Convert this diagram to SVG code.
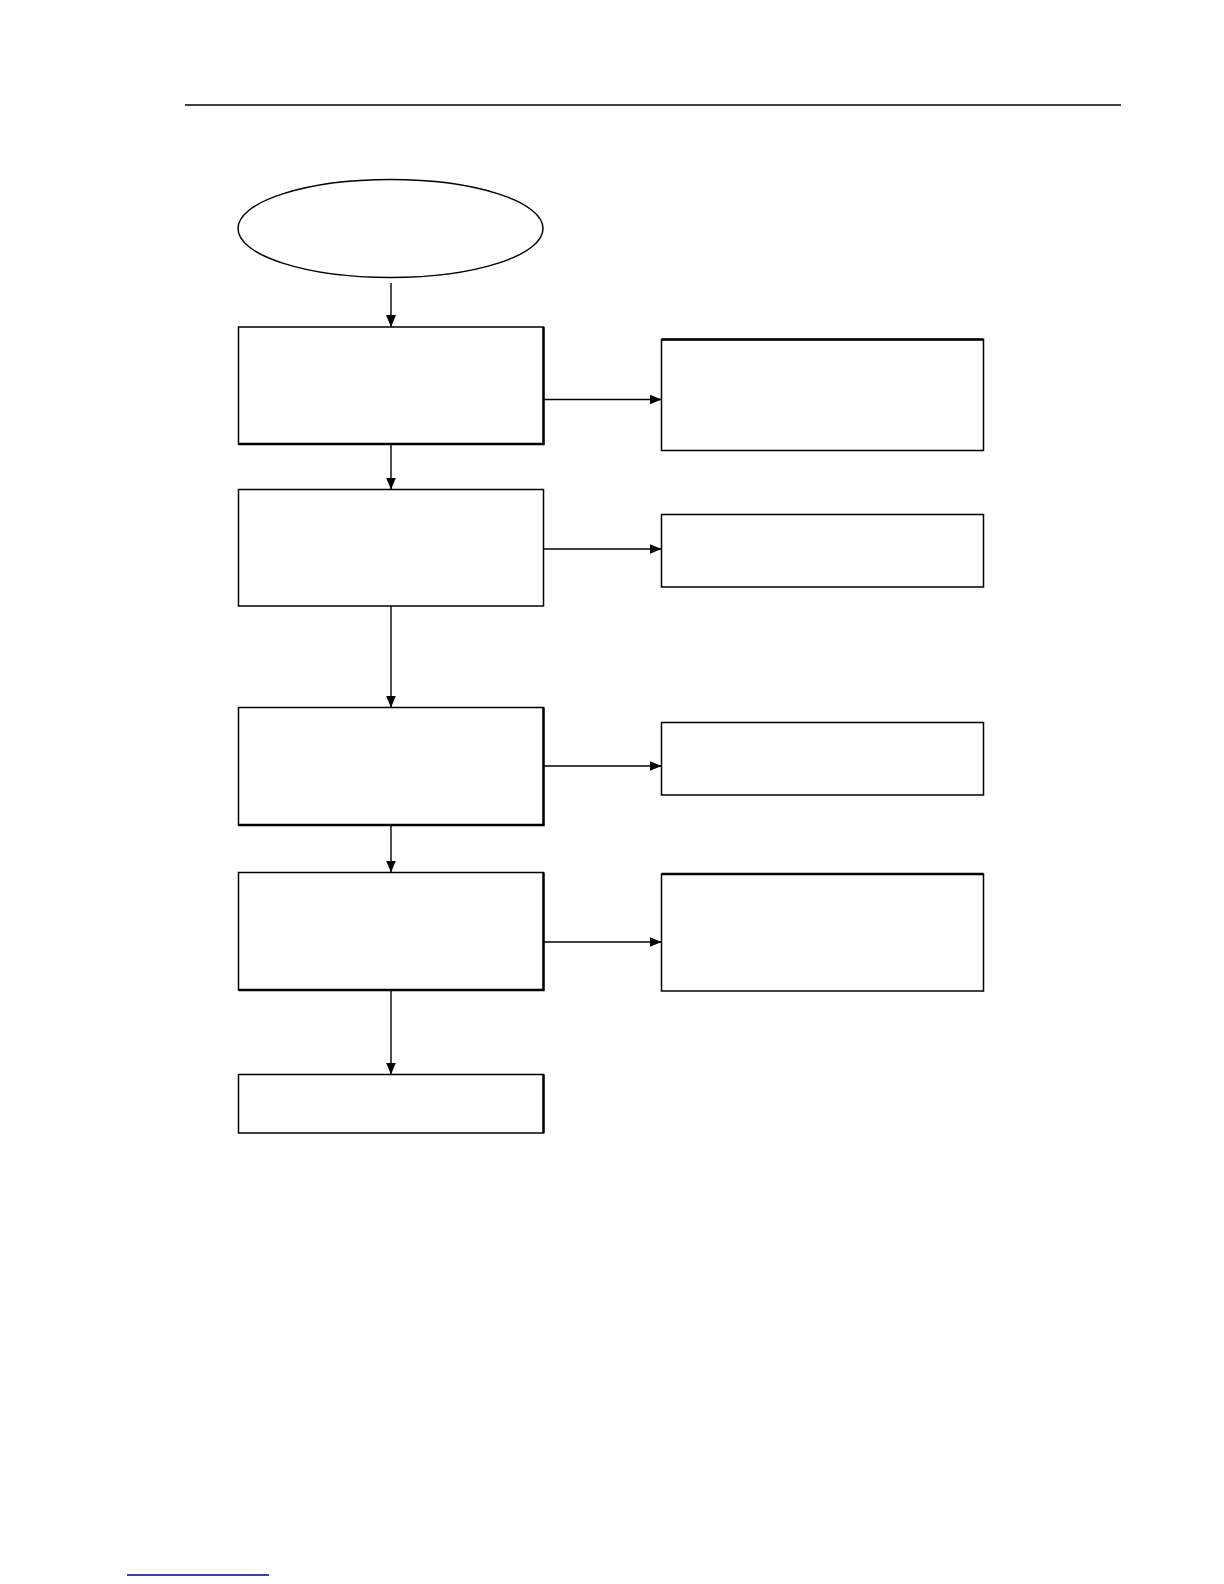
<svg xmlns="http://www.w3.org/2000/svg" width="1224" height="1584" viewBox="0 0 1224 1584">
<style>
.n{fill:#fff;stroke:#000;stroke-width:1.5}
.sh{fill:none;stroke:#000;stroke-width:2.4}
.c{fill:none;stroke:#000;stroke-width:1.4}
</style>
<defs>
<marker id="ah" viewBox="0 0 12 10" refX="12" refY="5" markerWidth="12" markerHeight="10" markerUnits="userSpaceOnUse" orient="auto">
<path d="M0,0 L12,5 L0,10 Z" fill="#000"/>
</marker>
</defs>
<rect width="1224" height="1584" fill="#fff"/>
<line x1="185" y1="105" x2="1121" y2="105" stroke="#000" stroke-width="1.3"/>
<line x1="127" y1="1575" x2="269" y2="1575" stroke="#00008b" stroke-width="1.3"/>
<g id="start"><ellipse class="n" cx="390.5" cy="228.5" rx="152.5" ry="49"/></g>
<g id="step1"><rect class="n" x="238.5" y="327" width="305" height="117"/><path class="sh" d="M543.5,327 V444 H238.5"/></g>
<g id="step2"><rect class="n" x="238.5" y="489.5" width="305" height="116.5"/></g>
<g id="step3"><rect class="n" x="238.5" y="707.5" width="305" height="117.5"/><path class="sh" d="M543.5,707.5 V825 H238.5"/></g>
<g id="step4"><rect class="n" x="238.5" y="872.5" width="305" height="117.5"/><path class="sh" d="M543.5,872.5 V990 H238.5"/></g>
<g id="step5"><rect class="n" x="238.5" y="1074.5" width="305" height="58.5"/><path class="sh" d="M543.5,1074.5 V1133"/></g>
<g id="side1"><rect class="n" x="661.5" y="339.5" width="322" height="111"/><path class="sh" d="M661.5,339.5 H983.5"/></g>
<g id="side2"><rect class="n" x="661.5" y="514.5" width="322" height="72.5"/></g>
<g id="side3"><rect class="n" x="661.5" y="722.5" width="322" height="72.5"/></g>
<g id="side4"><rect class="n" x="661.5" y="874" width="322" height="117"/><path class="sh" d="M661.5,874 H983.5"/></g>
<g id="connectors">
<line class="c" x1="391" y1="283" x2="391" y2="327" marker-end="url(#ah)"/>
<line class="c" x1="391" y1="444" x2="391" y2="489.5" marker-end="url(#ah)"/>
<line class="c" x1="391" y1="606" x2="391" y2="707.5" marker-end="url(#ah)"/>
<line class="c" x1="391" y1="825" x2="391" y2="872.5" marker-end="url(#ah)"/>
<line class="c" x1="391" y1="990" x2="391" y2="1074.5" marker-end="url(#ah)"/>
<line class="c" x1="543.5" y1="399.5" x2="661.5" y2="399.5" marker-end="url(#ah)"/>
<line class="c" x1="543.5" y1="549" x2="661.5" y2="549" marker-end="url(#ah)"/>
<line class="c" x1="543.5" y1="766" x2="661.5" y2="766" marker-end="url(#ah)"/>
<line class="c" x1="543.5" y1="942" x2="661.5" y2="942" marker-end="url(#ah)"/>
</g>
</svg>
